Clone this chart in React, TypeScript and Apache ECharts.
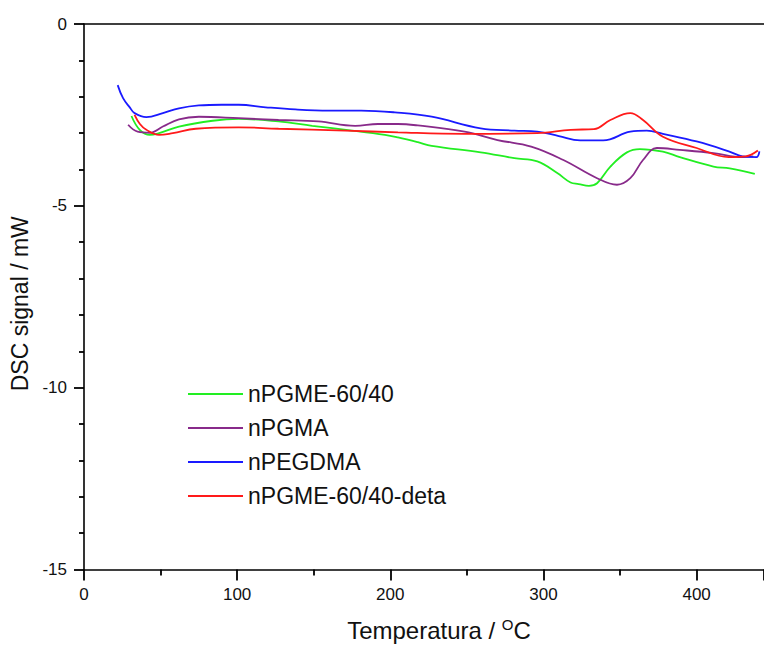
import React, { useEffect, useRef } from "react";
import * as echarts from "echarts";

const seriesNames = ["nPGME-60/40", "nPGMA", "nPEGDMA", "nPGME-60/40-deta"];
const seriesColors = ["#22ee22", "#882a8a", "#1a1aff", "#ff1a1a"];

const greenT = [31, 36.4, 43, 49, 62, 84, 101, 127, 149, 175, 196.5, 205, 218, 227, 259, 281, 296, 309, 317.7, 323, 329.7, 335, 343.7, 354.5, 363, 378, 389, 411, 421.6, 438];
const greenV = [-2.53, -2.91, -3.05, -3.0, -2.82, -2.66, -2.61, -2.68, -2.8, -2.93, -3.05, -3.12, -3.25, -3.35, -3.53, -3.69, -3.78, -4.1, -4.36, -4.4, -4.45, -4.38, -3.92, -3.53, -3.44, -3.51, -3.66, -3.92, -3.97, -4.12];

const purpleT = [28.8, 35, 43, 51.5, 62, 75, 101, 127, 153, 177, 192, 205, 218, 248.5, 270, 292, 313, 335, 348, 356.7, 365, 374, 389, 411, 430, 437];
const purpleV = [-2.77, -2.96, -2.99, -2.82, -2.62, -2.55, -2.59, -2.64, -2.68, -2.8, -2.75, -2.75, -2.79, -2.96, -3.19, -3.37, -3.74, -4.24, -4.42, -4.24, -3.74, -3.41, -3.46, -3.55, -3.66, -3.64];

const blueT = [22, 25.5, 30, 33, 40.7, 51.5, 62, 75, 90, 101, 118.6, 138, 160, 181, 203, 227, 259, 281, 296, 310, 324, 339, 356.7, 367.5, 378, 400, 421, 430, 439, 441];
const blueV = [-1.68, -2.04, -2.3, -2.45, -2.56, -2.45, -2.32, -2.24, -2.22, -2.22, -2.29, -2.35, -2.38, -2.38, -2.43, -2.55, -2.87, -2.93, -2.96, -3.08, -3.2, -3.2, -2.96, -2.93, -3.02, -3.23, -3.5, -3.64, -3.66, -3.5];

const redT = [33, 36.5, 40.7, 49, 58, 73, 101, 127, 170.6, 205, 248, 296, 317.7, 333, 343.7, 356.7, 365, 378, 400, 421, 432, 440];
const redV = [-2.5, -2.75, -2.91, -3.05, -3.0, -2.88, -2.84, -2.88, -2.93, -2.98, -3.02, -3.0, -2.91, -2.89, -2.64, -2.45, -2.64, -3.1, -3.41, -3.66, -3.64, -3.48];

const xTicks = { min: 0, max: 444, interval: 100 };
const yTicks = { min: -15, max: 0, interval: 5 };

const pair = (t: number[], v: number[]) => t.map((x, i) => [x, v[i]]);
const allData = [pair(greenT, greenV), pair(purpleT, purpleV), pair(blueT, blueV), pair(redT, redV)];

const FONT = "Liberation Sans, Arial, sans-serif";

export default function App() {
  const ref = useRef<HTMLDivElement>(null);
  useEffect(() => {
    document.body.style.margin = "0";
    if (!ref.current) return;
    const chart = echarts.init(ref.current, null, { renderer: "svg" });
    chart.setOption({
      animation: false,
      backgroundColor: "#ffffff",
      textStyle: { fontFamily: FONT },
      grid: { left: 84, right: 0, top: 24, bottom: 75 },
      legend: {
        orient: "vertical",
        left: 188,
        top: 382,
        icon: "rect",
        itemWidth: 55,
        itemHeight: 2,
        itemGap: 10,
        padding: 0,
        textStyle: { fontSize: 23, color: "#111", fontFamily: FONT, lineHeight: 24 },
        data: seriesNames,
      },
      xAxis: [
        {
          type: "value",
          min: xTicks.min,
          max: xTicks.max,
          interval: xTicks.interval,
          position: "bottom",
          axisLine: { show: true, onZero: false, lineStyle: { color: "#000", width: 1.6 } },
          axisTick: { show: true, length: 11, lineStyle: { color: "#000000", width: 1.8 } },
          minorTick: { show: true, splitNumber: 2, length: 6, lineStyle: { color: "#000000", width: 1.8 } },
          splitLine: { show: false },
          axisLabel: {
            fontSize: 17,
            color: "#111",
            margin: 16,
            fontFamily: FONT,
            showMaxLabel: false,
            formatter: (v: number) => (v % 100 === 0 ? String(v) : ""),
          },
          name: "Temperatura / {sup|O}C",
          nameLocation: "middle",
          nameGap: 47,
          nameTextStyle: {
            fontSize: 24,
            color: "#111",
            fontFamily: FONT,
            padding: [0, 0, 0, 30],
            rich: { sup: { fontSize: 15, verticalAlign: "top", padding: [0, 0, 12, 0], color: "#111" } },
          },
        },
        {
          type: "value",
          min: xTicks.min,
          max: xTicks.max,
          position: "top",
          axisLine: { show: true, onZero: false, lineStyle: { color: "#000", width: 1.6 } },
          axisTick: { show: false },
          axisLabel: { show: false },
          splitLine: { show: false },
        },
      ],
      yAxis: {
        type: "value",
        min: yTicks.min,
        max: yTicks.max,
        interval: yTicks.interval,
        axisLine: { show: true, onZero: false, lineStyle: { color: "#000", width: 1.6 } },
        axisTick: { show: true, length: 10, lineStyle: { color: "#000000", width: 1.8 } },
        minorTick: { show: true, splitNumber: 5, length: 5, lineStyle: { color: "#000000", width: 1.8 } },
        splitLine: { show: false },
        axisLabel: { fontSize: 17, color: "#111", margin: 17, fontFamily: FONT },
        name: "DSC signal / mW",
        nameLocation: "middle",
        nameGap: 48,
        nameTextStyle: { fontSize: 23, color: "#111", fontFamily: FONT, padding: [0, 14, 0, 0] },
      },
      series: seriesNames.map((n, i) => ({
        name: n,
        type: "line",
        xAxisIndex: 0,
        data: allData[i],
        smooth: 0.4,
        symbol: "none",
        lineStyle: { color: seriesColors[i], width: 1.8 },
        itemStyle: { color: seriesColors[i] },
      })),
    });
    return () => chart.dispose();
  }, []);
  return <div ref={ref} style={{ width: 764, height: 647 }} />;
}
